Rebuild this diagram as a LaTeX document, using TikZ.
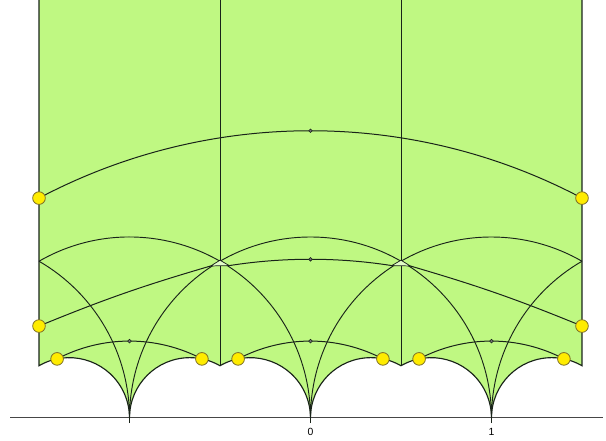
\documentclass[tikz,border=0pt]{standalone}
\usepackage{fontspec}
\setmainfont{Liberation Sans}
\usetikzlibrary{calc}
\definecolor{regiongreen}{RGB}{191,248,130}
\definecolor{linedark}{RGB}{25,35,25}
\definecolor{dotyellow}{RGB}{255,236,0}
\definecolor{dotrim}{RGB}{125,110,40}
\definecolor{axisgray}{RGB}{70,70,70}
\begin{document}
\begin{tikzpicture}[x=135.75pt,y=135.75pt,
  geo/.style={draw=linedark,line width=0.7pt},
  edgeline/.style={draw=linedark,line width=0.85pt},
  curveline/.style={draw=linedark,line width=0.75pt},
  ydot/.style={circle,fill=dotyellow,draw=dotrim,line width=0.6pt,minimum size=9.5pt,inner sep=0pt},
  tinydot/.style={circle,draw=linedark,fill=black!55,line width=0.4pt,minimum size=2.8pt,inner sep=0pt},
  lab/.style={font=\fontsize{7.8}{9}\selectfont,inner sep=0pt}]
\useasboundingbox (-1.7155,-0.1271) rectangle (1.6326,2.3094);

% named points
\coordinate (TLtop) at (-1.5,2.3094);
\coordinate (TRtop) at (1.5,2.3094);
\coordinate (BL) at (-1.5,0.288675);
\coordinate (BR) at (1.5,0.288675);
\coordinate (VLtop) at (-0.5,2.3094);
\coordinate (VLbot) at (-0.5,0.288675);
\coordinate (VRtop) at (0.5,2.3094);
\coordinate (VRbot) at (0.5,0.288675);
\coordinate (cm1) at (-1,0);
\coordinate (c0) at (0,0);
\coordinate (c1) at (1,0);
\coordinate (rhoL) at (-1.5,0.866025);

% green region
\fill[regiongreen] (TLtop) -- (BL)
  arc[start angle=120,end angle=0,radius=1/3]
  arc[start angle=180,end angle=60,radius=1/3]
  arc[start angle=120,end angle=0,radius=1/3]
  arc[start angle=180,end angle=60,radius=1/3]
  arc[start angle=120,end angle=0,radius=1/3]
  arc[start angle=180,end angle=60,radius=1/3]
  -- (TRtop) -- cycle;

% boundary
\draw[edgeline] (TLtop) -- (BL)
  arc[start angle=120,end angle=0,radius=1/3]
  arc[start angle=180,end angle=60,radius=1/3]
  arc[start angle=120,end angle=0,radius=1/3]
  arc[start angle=180,end angle=60,radius=1/3]
  arc[start angle=120,end angle=0,radius=1/3]
  arc[start angle=180,end angle=60,radius=1/3]
  -- (TRtop);

% interior vertical sides
\draw[geo] (VLtop) -- (VLbot);
\draw[geo] (VRtop) -- (VRbot);

% geodesic arcs
\draw[geo] (cm1) arc[start angle=180,end angle=0,radius=1];
\draw[geo] (rhoL) arc[start angle=120,end angle=0,radius=1];
\draw[geo] (c0) arc[start angle=180,end angle=60,radius=1];
\draw[geo] (rhoL) arc[start angle=60,end angle=0,radius=1];
\draw[geo] (c1) arc[start angle=180,end angle=120,radius=1];

% top curve
\coordinate (topL) at (-1.5,1.215);
\coordinate (topR) at (1.5,1.215);
\draw[curveline] (topL) arc[start angle=117.86,end angle=62.14,radius=3.21];

% middle curve
\coordinate (midL) at (-1.5,0.508);
\coordinate (midR) at (1.5,0.508);
\coordinate (triLa) at (-0.551,0.840);
\coordinate (triLb) at (-0.449,0.842);
\coordinate (triLc) at (-0.5,0.872);
\coordinate (triRa) at (0.449,0.842);
\coordinate (triRb) at (0.551,0.840);
\coordinate (triRc) at (0.5,0.872);
\draw[curveline] (midL) to[bend left=3] (triLa);
\draw[curveline] (triLb) arc[start angle=98.92,end angle=81.08,radius=2.897];
\draw[curveline] (triRb) to[bend left=3] (midR);
\filldraw[curveline,fill=regiongreen!45!white,line width=0.55pt] (triLa) -- (triLb) -- (triLc) -- cycle;
\filldraw[curveline,fill=regiongreen!45!white,line width=0.55pt] (triRa) -- (triRb) -- (triRc) -- cycle;

% lowest curves
\foreach \k/\nm in {-1/a,0/b,1/c}{
  \coordinate (low\nm L) at (\k-0.4,0.3265);
  \coordinate (low\nm R) at (\k+0.4,0.3265);
  \draw[curveline] (low\nm L) arc[start angle=117.67,end angle=62.33,radius=0.8615];
}

% axis, ticks, labels
\coordinate (axL) at (-1.66,0);
\coordinate (axR) at (1.616,0);
\draw[axisgray,line width=0.75pt] (axL) -- (axR);
\foreach \k/\nm in {-1/a,0/b,1/c}{
  \coordinate (tb\nm) at (\k,-0.028);
  \coordinate (tt\nm) at (\k,0.075);
  \draw[linedark,line width=1.2pt] (tb\nm) -- (tt\nm);
}
\node[lab] (lab0) at (0,-0.077) {0};
\node[lab] (lab1) at (1,-0.077) {1};

% small black dots
\node[tinydot] (sd1) at (0,1.587) {};
\node[tinydot] (sd2) at (0,0.877) {};
\node[tinydot] (sd3) at (-1,0.425) {};
\node[tinydot] (sd4) at (0,0.425) {};
\node[tinydot] (sd5) at (1,0.425) {};

% yellow dots
\node[ydot] (y1) at (topL) {};
\node[ydot] (y2) at (topR) {};
\node[ydot] (y3) at (midL) {};
\node[ydot] (y4) at (midR) {};
\node[ydot] (y5) at (lowaL) {};
\node[ydot] (y6) at (lowaR) {};
\node[ydot] (y7) at (lowbL) {};
\node[ydot] (y8) at (lowbR) {};
\node[ydot] (y9) at (lowcL) {};
\node[ydot] (y10) at (lowcR) {};
\end{tikzpicture}
\end{document}
